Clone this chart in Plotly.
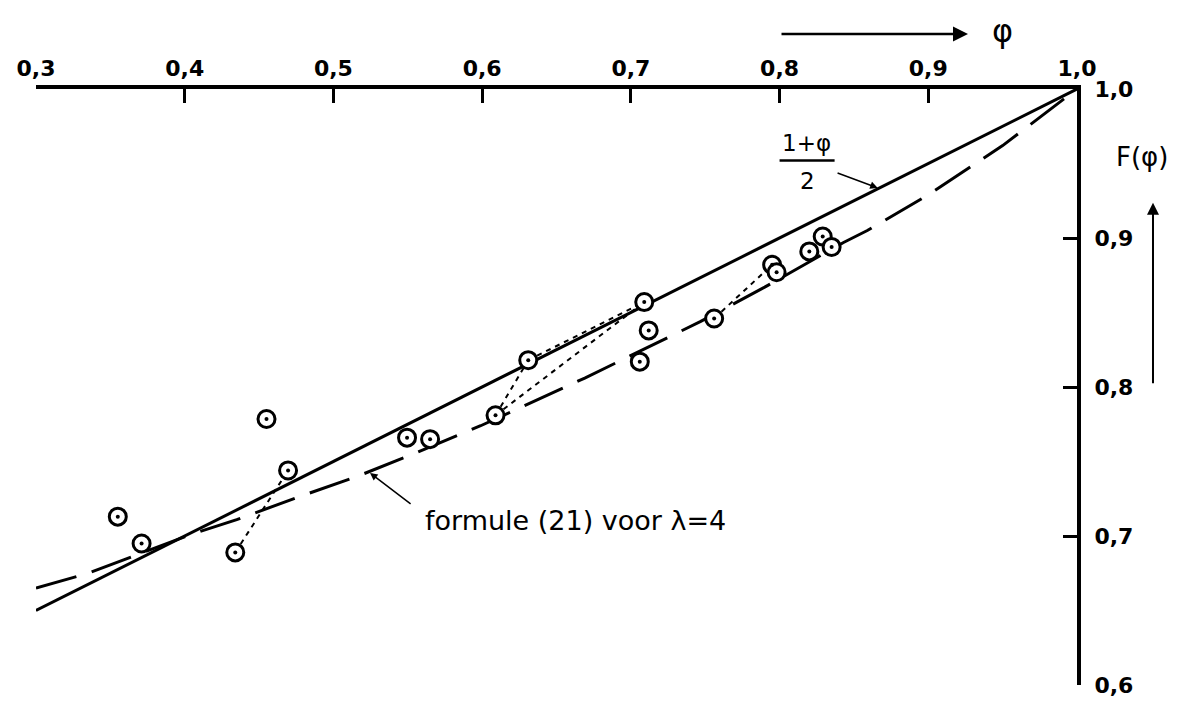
import plotly.graph_objects as go

# Measured points (phi, F(phi))
phi_pts = [0.355, 0.371, 0.434, 0.455, 0.4695, 0.5495, 0.565, 0.609, 0.631,
           0.709, 0.712, 0.706, 0.756, 0.795, 0.798, 0.820, 0.829, 0.835]
F_pts = [0.713, 0.695, 0.689, 0.7785, 0.744, 0.766, 0.765, 0.781, 0.818,
         0.857, 0.838, 0.817, 0.846, 0.882, 0.877, 0.891, 0.901, 0.894]

# Dotted connections between measured points (index pairs)
dotted_pairs = [(2, 4), (7, 8), (8, 9), (7, 9), (12, 13)]

# Straight line (1+phi)/2
phi_line = [0.3, 1.0]
F_line = [0.65, 1.0]

# Formula (21) for lambda = 4 (dashed curve)
phi_curve = [0.300, 0.335, 0.404, 0.435, 0.476, 0.516, 0.556, 0.599, 0.669,
             0.708, 0.747, 0.790, 0.843, 0.859, 0.900, 0.950, 1.000]
F_curve = [0.665, 0.675, 0.701, 0.711, 0.726, 0.740, 0.756, 0.774, 0.806,
           0.825, 0.844, 0.867, 0.897, 0.905, 0.929, 0.962, 1.000]

x_ticks = [0.3, 0.4, 0.5, 0.6, 0.7, 0.8, 0.9, 1.0]
x_labels = ["0,3", "0,4", "0,5", "0,6", "0,7", "0,8", "0,9", "1,0"]
y_ticks = [0.6, 0.7, 0.8, 0.9, 1.0]
y_labels = ["0,6", "0,7", "0,8", "0,9", "1,0"]

FONT = "DejaVu Sans"

fig = go.Figure()

fig.add_trace(go.Scatter(x=phi_line, y=F_line, mode="lines",
                         line=dict(color="black", width=3), hoverinfo="skip"))
fig.add_trace(go.Scatter(x=phi_curve, y=F_curve, mode="lines",
                         line=dict(color="black", width=3, dash="42px,16px"),
                         hoverinfo="skip"))
for a, b in dotted_pairs:
    fig.add_trace(go.Scatter(x=[phi_pts[a], phi_pts[b]], y=[F_pts[a], F_pts[b]],
                             mode="lines",
                             line=dict(color="black", width=2, dash="5px,5px"),
                             hoverinfo="skip"))

fig.add_trace(go.Scatter(x=phi_pts, y=F_pts, mode="markers",
                         marker=dict(symbol="circle", size=17, color="white",
                                     line=dict(color="black", width=3))))
fig.add_trace(go.Scatter(x=phi_pts, y=F_pts, mode="markers",
                         marker=dict(symbol="circle", size=4, color="black")))

def label(x, y, text, size, xref="x", yref="y", bold=False):
    fig.add_annotation(x=x, y=y, xref=xref, yref=yref, text=text,
                       showarrow=False, xanchor="center", yanchor="middle",
                       font=dict(family=FONT, size=size, color="black",
                                 weight="bold" if bold else "normal"))

# Labels
label(0.818, 0.9638, "1+φ", 23)
fig.add_shape(type="line", x0=0.800, x1=0.837, y0=0.952, y1=0.952,
              xref="x", yref="y", line=dict(color="black", width=2.5))
label(0.819, 0.9385, "2", 23)
fig.add_annotation(x=0.866, y=0.9336, ax=0.838, ay=0.944, xref="x", yref="y",
                   axref="x", ayref="y", text="", showarrow=True,
                   arrowhead=2, arrowsize=1, arrowwidth=1.5, arrowcolor="black")

label(0.6625, 0.7107, "formule (21) voor λ=4", 27)
fig.add_annotation(x=0.5246, y=0.7423, ax=0.5529, ay=0.7208, xref="x", yref="y",
                   axref="x", ayref="y", text="", showarrow=True,
                   arrowhead=2, arrowsize=1, arrowwidth=1.5, arrowcolor="black")

# axis titles with arrows
fig.add_annotation(x=0.8953, y=1.0923, ax=-188, ay=0, xref="paper", yref="paper",
                   axref="pixel", ayref="pixel", text="", showarrow=True,
                   arrowhead=2, arrowsize=1.2, arrowwidth=2.5, arrowcolor="black")
label(0.928, 1.097, "φ", 32, "paper", "paper")
fig.add_annotation(x=1.073, y=0.809, ax=0, ay=182, xref="paper", yref="paper",
                   axref="pixel", ayref="pixel", text="", showarrow=True,
                   arrowhead=2, arrowsize=1.2, arrowwidth=2, arrowcolor="black")
label(1.0624, 0.886, "F(φ)", 26, "paper", "paper")

fig.update_layout(
    width=1186, height=696,
    margin=dict(l=28, r=117, t=81, b=19, autoexpand=False),
    paper_bgcolor="white", plot_bgcolor="white",
    showlegend=False,
    xaxis=dict(range=[0.3, 1.0], side="top", showline=True, linewidth=4,
               linecolor="black", showgrid=False, zeroline=False,
               automargin=False,
               ticks="inside", ticklen=14, tickwidth=3, tickcolor="black",
               tickvals=x_ticks, ticktext=x_labels, ticklabelstandoff=0,
               tickfont=dict(family=FONT, size=22, color="black", weight="bold")),
    yaxis=dict(range=[0.6, 1.0], side="right", showline=True, linewidth=4,
               linecolor="black", showgrid=False, zeroline=False,
               automargin=False,
               ticks="inside", ticklen=14, tickwidth=3, tickcolor="black",
               tickvals=y_ticks, ticktext=y_labels, ticklabelstandoff=9,
               tickfont=dict(family=FONT, size=22, color="black", weight="bold")),
)

fig.write_html("out.html")
